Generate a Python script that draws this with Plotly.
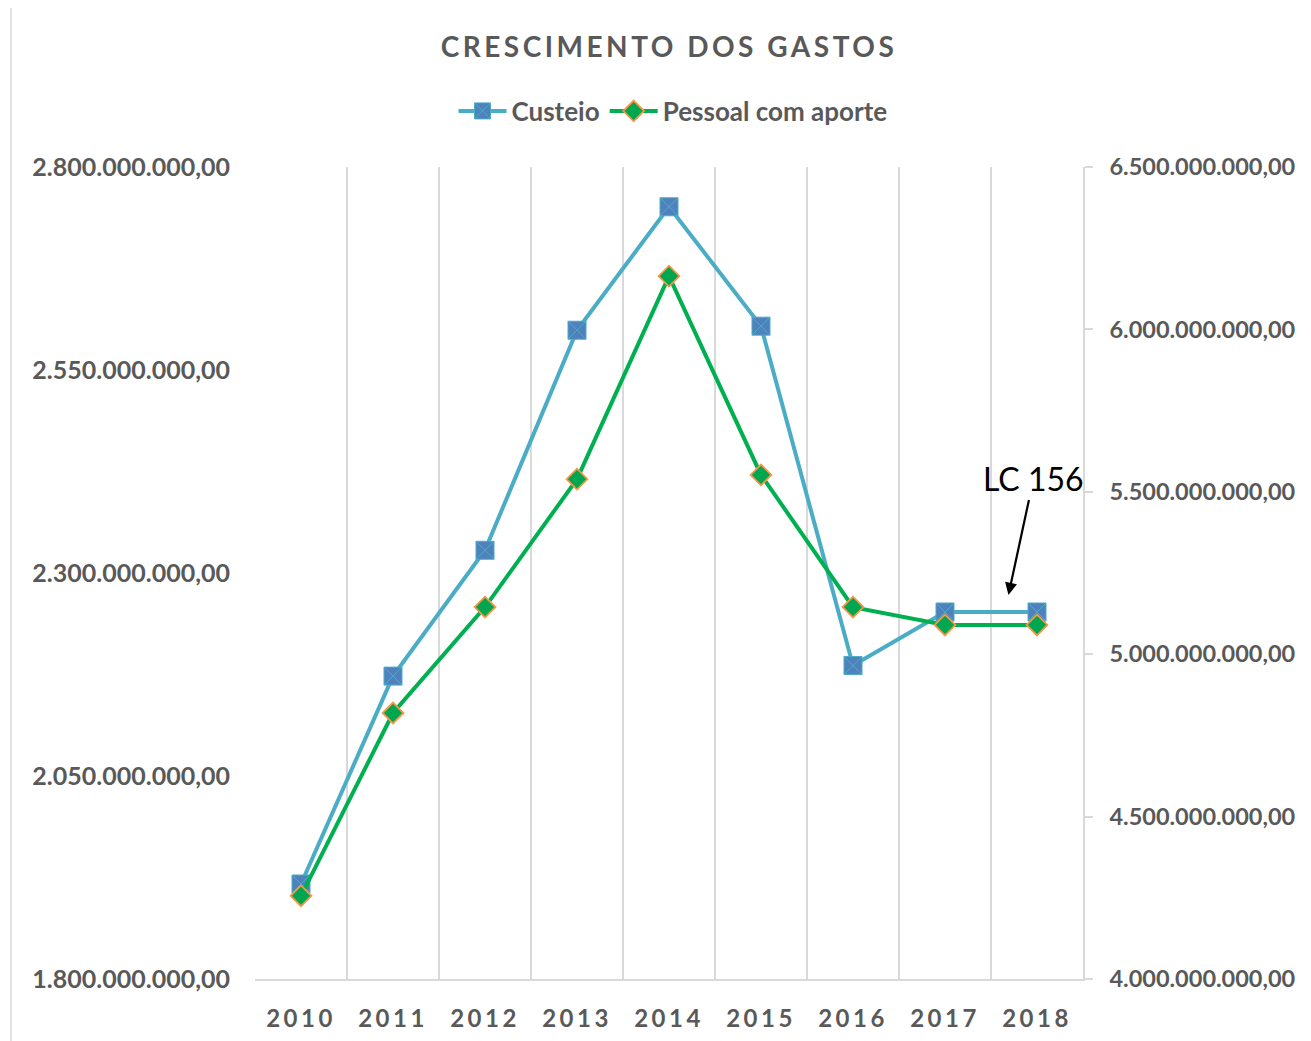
import plotly.graph_objects as go

years = ["2010", "2011", "2012", "2013", "2014", "2015", "2016", "2017", "2018"]
custeio = [1.917e9, 2.173e9, 2.328e9, 2.599e9, 2.751e9, 2.604e9, 2.186e9, 2.252e9, 2.252e9]
pessoal = [4.256e9, 4.819e9, 5.145e9, 5.539e9, 6.164e9, 5.552e9, 5.145e9, 5.090e9, 5.090e9]

title_text = "CRESCIMENTO DOS GASTOS"
annot_text = "LC 156"

GRAY = "#595959"
GRID = "#D9D9D9"
FONT = "Lato"

W, H = 1311, 1033

fig = go.Figure()
fig.add_trace(go.Scatter(
    x=years, y=custeio, name="Custeio", mode="lines+markers",
    line=dict(color="#4BACC6", width=4),
    marker=dict(symbol="square-x", size=18, color="#4F81BD",
                line=dict(color="#4BACC6", width=1)),
    yaxis="y",
))
fig.add_trace(go.Scatter(
    x=years, y=pessoal, name="Pessoal com aporte", mode="lines+markers",
    line=dict(color="#00B050", width=4),
    marker=dict(symbol="diamond", size=16, color="#00A650",
                line=dict(color="#F79646", width=1.8)),
    yaxis="y2",
))

spaced_years = [f'<span style="letter-spacing:3.5px">{y}</span>' for y in years]

fig.update_layout(
    width=W, height=H,
    margin=dict(l=247, r=236, t=159, b=62, autoexpand=False),
    paper_bgcolor="white", plot_bgcolor="white",
    separators=",.",
    font=dict(family=FONT, color=GRAY),
    title=dict(text=f'<span style="letter-spacing:3.5px">{title_text}</span>',
               x=(669 - 8) / W, xanchor="center", y=1 - 39 / H, yanchor="middle",
               font=dict(family=FONT, size=28, color=GRAY, weight="bold")),
    showlegend=True,
    legend=dict(orientation="h", x=(673 - 255) / 828, xanchor="center",
                y=(979 - 111) / 812, yanchor="middle",
                font=dict(family=FONT, size=26, color=GRAY, weight="bold"),
                bgcolor="rgba(0,0,0,0)", itemwidth=48),
    xaxis=dict(type="category", tickmode="array", tickvals=years, ticktext=spaced_years,
               tickson="boundaries", showgrid=True, gridcolor=GRID, gridwidth=1.5,
               showline=True, linecolor=GRID, linewidth=1.5, ticks="",
               tickfont=dict(family=FONT, size=24, color=GRAY, weight="bold"),
               ticklabelstandoff=17, range=[-0.5, 8.5], zeroline=False,
               automargin=False),
    yaxis=dict(range=[1.8e9, 2.8e9], dtick=2.5e8, tick0=1.8e9, tickformat=",.2f",
               showgrid=False, zeroline=False, showline=False, ticks="",
               tickfont=dict(family=FONT, size=25, color=GRAY, weight="bold"),
               ticklabelstandoff=24, automargin=False),
    yaxis2=dict(range=[4.0e9, 6.5e9], dtick=5e8, tick0=4.0e9, tickformat=",.2f",
                overlaying="y", side="right", showgrid=False, zeroline=False,
                showline=True, linecolor=GRID, linewidth=1.5,
                ticks="outside", ticklen=8, tickcolor=GRID, tickwidth=1.5,
                tickfont=dict(family=FONT, size=23.5, color=GRAY, weight="bold"),
                ticklabelstandoff=12, automargin=False),
)

fig.add_annotation(
    x=7.69, y=2.273e9, xref="x", yref="y",
    text=annot_text, showarrow=True, arrowhead=2, arrowsize=1.1, arrowwidth=2.2,
    arrowcolor="black", ax=25, ay=-116,
    font=dict(family=FONT, size=32, color="black"),
)

fig.add_shape(type="rect", xref="paper", yref="paper",
              x0=(11 - 255) / 828, x1=(1320 - 255) / 828,
              y0=(979 - 1050) / 812, y1=(979 - 6) / 812,
              line=dict(color=GRID, width=1.5), fillcolor="rgba(0,0,0,0)", layer="below")

fig.write_html("out.html")
